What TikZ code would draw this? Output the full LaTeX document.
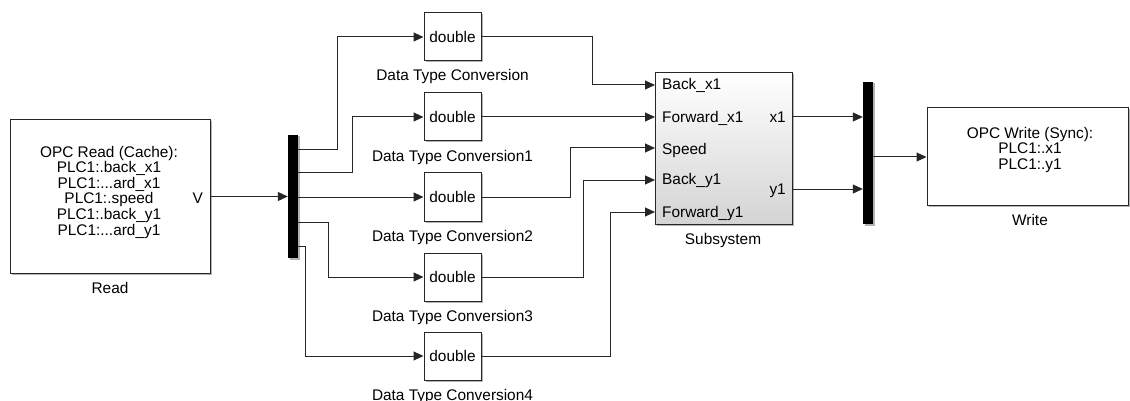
\documentclass[tikz,border=0pt]{standalone}
\usepackage{fontspec}
\setmainfont{Liberation Sans}
\usetikzlibrary{arrows.meta,shadows}

\begin{document}
\begin{tikzpicture}[x=1pt,y=-1pt,
  font=\fontsize{15.4}{15.6}\selectfont,
  wire/.style={draw=black!85, line width=1pt},
  sig/.style={wire, -{Triangle[length=10pt,width=9pt]}},
  shadowed/.style={drop shadow={shadow xshift=1.5pt, shadow yshift=-1.5pt, fill=black!50, opacity=0.6}},
  blk/.style={draw=black!85, line width=1pt, fill=white, inner sep=0pt, shadowed},
  dtcbox/.style={blk, minimum width=57pt, minimum height=48pt, text=black},
  busbar/.style={fill=black, draw=none, inner sep=0pt, minimum width=10pt, shadowed},
  lbl/.style={inner sep=0pt, text=black},
]
\useasboundingbox (0,0) rectangle (1130,401);

% OPC read block
\node[blk, minimum width=200pt, minimum height=153pt] (read) at (110,196.5) {};
\node[lbl, align=center, anchor=north] (readtxt) at (109,145.8)
  {OPC Read (Cache):\\PLC1:.back\_x1\\PLC1:...ard\_x1\\PLC1:.speed\\PLC1:.back\_y1\\PLC1:...ard\_y1};
\node[lbl, anchor=base east] (readport) at (203,203) {V};
\node[lbl, anchor=base] (readname) at (110,293) {Read};

% demux bar and its output ports
\node[busbar, minimum height=123pt] (dmx) at (293,196.5) {};
\coordinate (d1) at (298,150);
\coordinate (d2) at (298,173);
\coordinate (d3) at (298,197);
\coordinate (d4) at (298,222);
\coordinate (d5) at (298,246);

% data type conversion blocks
\foreach \i/\y/\s in {0/37/,1/117/1,2/197/2,3/277/3,4/356/4}{
  \node[dtcbox] (dtc\i) at (452.5,\y) {double};
  \node[lbl, anchor=base] (dtcname\i) at (452.5,\y+44) {Data Type Conversion\s};
}

% subsystem
\node[blk, minimum width=137pt, minimum height=151pt,
      top color=white, middle color=black!2, bottom color=black!17] (sub) at (723.5,148.5) {};
\node[lbl, anchor=base] (subname) at (723,244) {Subsystem};
\coordinate (s1) at (655,85);
\coordinate (s2) at (655,117);
\coordinate (s3) at (655,148);
\coordinate (s4) at (655,180);
\coordinate (s5) at (655,212);
\node[lbl, anchor=base west] (p1) at (662,90) {Back\_x1};
\node[lbl, anchor=base west] (p2) at (662,123) {Forward\_x1};
\node[lbl, anchor=base west] (p3) at (662,154) {Speed};
\node[lbl, anchor=base west] (p4) at (662,185) {Back\_y1};
\node[lbl, anchor=base west] (p5) at (662,217) {Forward\_y1};
\coordinate (so1) at (792,117);
\coordinate (so2) at (792,189);
\node[lbl, anchor=base east] (q1) at (786,123) {x1};
\node[lbl, anchor=base east] (q2) at (786,194) {y1};

% mux bar
\node[busbar, minimum height=142pt] (mux) at (868,153) {};
\coordinate (mo) at (873,157);

% OPC write block
\node[blk, minimum width=201pt, minimum height=97pt] (write) at (1027.5,156.5) {};
\node[lbl, align=center, anchor=north] (writetxt) at (1030,126.8)
  {OPC Write (Sync):\\PLC1:.x1\\PLC1:.y1};
\node[lbl, anchor=base] (writename) at (1030,225) {Write};

% signal lines
\draw[sig] (read.east) -- (dmx.west);
\draw[sig] (d1) -- ++(39,0) |- (dtc0.west);
\draw[sig] (d2) -- ++(54,0) |- (dtc1.west);
\draw[sig] (d3) -- (dtc2.west);
\draw[sig] (d4) -- ++(30,0) |- (dtc3.west);
\draw[sig] (d5) -- ++(7,0) |- (dtc4.west);

\draw[sig] (dtc0.east) -- ++(111,0) |- (s1);
\draw[sig] (dtc1.east) -- (s2);
\draw[sig] (dtc2.east) -- ++(89,0) |- (s3);
\draw[sig] (dtc3.east) -- ++(102,0) |- (s4);
\draw[sig] (dtc4.east) -- ++(129,0) |- (s5);

\draw[sig] (so1) -- (so1 -| mux.west);
\draw[sig] (so2) -- (so2 -| mux.west);
\draw[sig] (mo) -- (mo -| write.west);
\end{tikzpicture}
\end{document}
